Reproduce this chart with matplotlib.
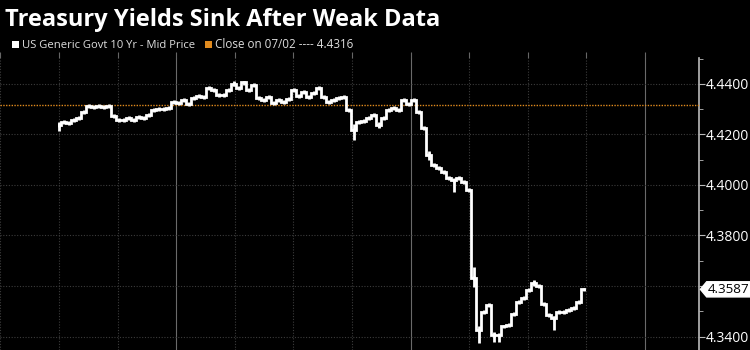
import matplotlib
matplotlib.use("Agg")
import matplotlib.pyplot as plt
from matplotlib.patches import Polygon, Rectangle
from matplotlib.ticker import MultipleLocator, FixedLocator

# ---- data ----
title = "Treasury Yields Sink After Weak Data"
series_label = "US Generic Govt 10 Yr - Mid Price"
close_label = "Close on 07/02 ---- 4.4316"
prev_close = 4.4316
last_value = 4.3587
yields = [
    4.4236, 4.4248, 4.4244, 4.4256, 4.4264, 4.4288, 4.4312, 4.4308, 4.4312, 4.4308,
    4.4312, 4.4272, 4.4256, 4.4256, 4.4264, 4.4256, 4.4268, 4.4264, 4.4276, 4.4296,
    4.4300, 4.4300, 4.4304, 4.4328, 4.4324, 4.4336, 4.4320, 4.4343, 4.4351, 4.4347,
    4.4383, 4.4375, 4.4355, 4.4355, 4.4375, 4.4399, 4.4383, 4.4406, 4.4375, 4.4395,
    4.4343, 4.4336, 4.4347, 4.4324, 4.4336, 4.4328, 4.4340, 4.4375, 4.4351, 4.4367,
    4.4347, 4.4363, 4.4383, 4.4347, 4.4328, 4.4336, 4.4343, 4.4347, 4.4296, 4.4217,
    4.4248, 4.4252, 4.4264, 4.4276, 4.4236, 4.4264, 4.4296, 4.4304, 4.4296, 4.4336,
    4.4320, 4.4336, 4.4288, 4.4225, 4.4118, 4.4079, 4.4067, 4.4051, 4.4027, 4.4020,
    4.4027, 4.4011, 4.3980, 4.3632, 4.3426, 4.3498, 4.3525, 4.3407, 4.3407, 4.3440,
    4.3446, 4.3490, 4.3537, 4.3553, 4.3585, 4.3612, 4.3600, 4.3530, 4.3486, 4.3474,
    4.3498, 4.3498, 4.3506, 4.3514, 4.3537, 4.3587,
]
# bars whose intraday range reaches beyond the close (index: (low, high))
spike_idx = [0, 35, 37, 59, 64, 74, 79, 83, 84, 87, 88, 95, 99]
spike_low = [4.4215, 4.4390, 4.4395, 4.4177, 4.4225, 4.4100, 4.3972, 4.3597, 4.3375, 4.3380, 4.3378, 4.3600, 4.3426]
spike_high = [4.4250, 4.4410, 4.4410, 4.4240, 4.4250, 4.4135, 4.4025, 4.3675, 4.3440, 4.3420, 4.3410, 4.3625, 4.3480]
y_ticks = [4.34, 4.36, 4.38, 4.40, 4.42, 4.44]
y_tick_labels = ["4.3400", "", "4.3800", "4.4000", "4.4200", "4.4400"]

FONT = ["Open Sans", "DejaVu Sans"]
plt.rcParams["font.family"] = FONT

W, H = 750, 350
fig = plt.figure(figsize=(W / 100, H / 100), dpi=100, facecolor="black")

ax_left, ax_right, ax_top = 0, 699, 58
ax = fig.add_axes([ax_left / W, 0, (ax_right - ax_left) / W, (H - ax_top) / H])
ax.set_facecolor("black")

x = list(range(len(yields)))
ax.plot(x, yields, drawstyle="steps-mid", color="white", lw=2.0, solid_joinstyle="miter", zorder=4)
# small high-low bars for texture
ax.vlines(x, [v - 0.0007 for v in yields], [v + 0.0007 for v in yields],
          color="white", lw=2.0, zorder=4)
ax.vlines(spike_idx, spike_low, spike_high, color="white", lw=2.0, zorder=4)

ax.axhline(prev_close, color="#e08a1e", lw=1.0, ls=(0, (1, 1)), zorder=3)

ax.set_xlim(-11.8, 128)
ax.set_ylim(4.3347, 4.4502)

grid_step = 11.72
vx = [grid_step * k for k in range(-1, 11)]
ax.xaxis.set_major_locator(FixedLocator(vx))
ax.xaxis.tick_top()
ax.tick_params(axis="x", which="major", direction="out", length=4, color="#666666",
               labeltop=False, labelbottom=False)
for k, v in zip(range(-1, 11), vx):
    bright = k in (2, 6, 10)
    ax.axvline(v, color="#6a6a6a" if bright else "#3c3c3c", lw=0.8,
               ls="-" if bright else (0, (1, 1.5)), zorder=1)

ax.yaxis.tick_right()
ax.yaxis.set_major_locator(FixedLocator(y_ticks))
ax.set_yticklabels(y_tick_labels)
ax.yaxis.set_minor_locator(MultipleLocator(0.01))
ax.tick_params(axis="y", which="major", direction="out", length=4, color="#bbbbbb",
               labelcolor="white", labelsize=10, pad=1)
ax.tick_params(axis="y", which="minor", direction="out", length=3, color="#bbbbbb")
for t in y_ticks:
    ax.axhline(t, color="#3c3c3c", lw=0.8, ls=(0, (1, 1.5)), zorder=1)

for s in ("left", "top", "bottom"):
    ax.spines[s].set_visible(False)
ax.spines["right"].set_color("#bbbbbb")
ax.spines["right"].set_linewidth(1.2)

# last value label
trans = ax.get_yaxis_transform()
yl = last_value
h = 0.0030
poly = Polygon([(1.002, yl), (1.011, yl + h), (1.075, yl + h), (1.075, yl - h), (1.011, yl - h)],
               closed=True, transform=trans, facecolor="white", edgecolor="white",
               clip_on=False, zorder=10)
ax.add_patch(poly)
ax.text(1.0125, yl, f"{last_value:.4f}", transform=trans, ha="left", va="center",
        color="black", fontsize=9.6, clip_on=False, zorder=11)

# title and legend
fig.text(5 / W, 1 - 26 / H, title, color="white", fontsize=17, fontweight="bold",
         ha="left", va="baseline")
fig.patches.append(Rectangle((12 / W, 1 - 48 / H), 7 / W, 7 / H, transform=fig.transFigure,
                             facecolor="white", edgecolor="none"))
fig.text(22 / W, 1 - 48 / H, series_label, color="#dddddd", fontsize=8.1,
         ha="left", va="baseline")
fig.patches.append(Rectangle((205 / W, 1 - 48 / H), 7 / W, 7 / H, transform=fig.transFigure,
                             facecolor="#e08a1e", edgecolor="none"))
fig.text(215 / W, 1 - 48 / H, close_label, color="#dddddd", fontsize=8.4,
         ha="left", va="baseline")

fig.savefig("out.png", dpi=100, facecolor="black")
